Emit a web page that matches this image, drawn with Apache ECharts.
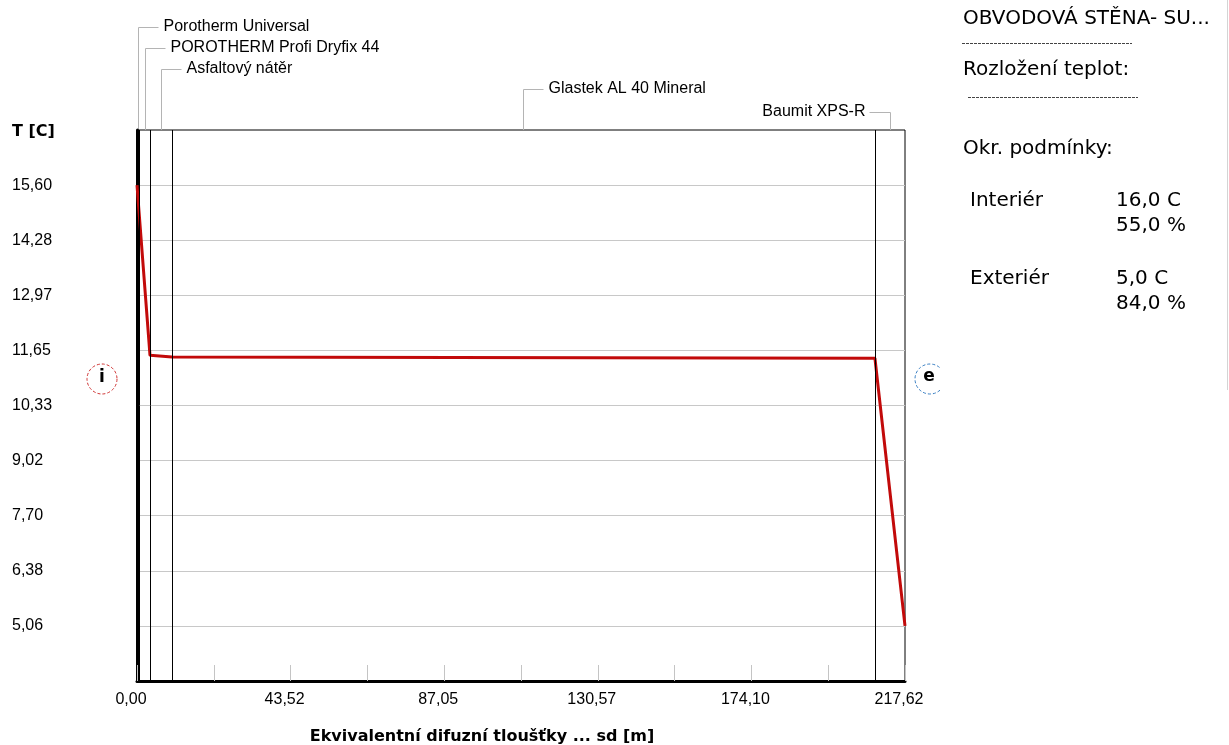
<!DOCTYPE html>
<html>
<head>
<meta charset="utf-8">
<script src="https://cdn.jsdelivr.net/npm/echarts@6/dist/echarts.min.js"></script>
<style>
  html, body { margin: 0; padding: 0; background: #fff; }
  #main { width: 1229px; height: 745px; }
</style>
</head>
<body>
<div id="main"></div>
<script>
// vrstvy konstrukce (hranice v sd [m])
const layerNames = ["Porotherm Universal", "POROTHERM Profi Dryfix 44", "Asfaltový nátěr", "Glastek AL 40 Mineral", "Baumit XPS-R"];
const layerBounds = [0, 0.6, 3.68, 9.92, 209.1, 217.62];

// průběh teploty
const sdValues = [0, 3.68, 9.92, 209.1, 217.62];
const tempValues = [15.6, 11.53, 11.49, 11.46, 5.06];

// popisky os
const xTickLabels = ["0,00", "43,52", "87,05", "130,57", "174,10", "217,62"];
const yTickLabels = ["5,06", "6,38", "7,70", "9,02", "10,33", "11,65", "12,97", "14,28", "15,60"];

// okrajové podmínky
const panelTitle = "OBVODOVÁ STĚNA- SU...";
const condNames = ["Interiér", "Exteriér"];
const condTemps = ["16,0 C", "5,0 C"];
const condHumid = ["55,0 %", "84,0 %"];

const xMax = 217.62;
const xStep = xMax / 10;
const yStep = 1.3175;
const yMin = 5.06 - yStep;
const yMax = yMin + 10 * yStep;

const FONT = "Liberation Sans, Arial, sans-serif";
const PANEL_FONT = "DejaVu Sans, sans-serif";

var myChart = echarts.init(document.getElementById("main"));

var option = {
  animation: false,
  backgroundColor: "#fff",
  grid: { left: 137, right: 324, top: 130, bottom: 64, show: true, borderColor: "#000", borderWidth: 1 },
  xAxis: {
    type: "value",
    min: 0,
    max: xMax,
    interval: xStep,
    axisLine: { lineStyle: { color: "#000", width: 3 } },
    axisTick: { inside: true, length: 16, lineStyle: { color: "#c4c4c4", width: 1 } },
    splitLine: { show: false },
    axisLabel: {
      color: "#000",
      fontSize: 16,
      fontFamily: FONT,
      margin: 11,
      padding: [0, 12, 0, 0],
      showMaxLabel: true,
      formatter: function (v) {
        const idx = Math.round(v / xStep);
        if (idx % 2) return "";
        return xTickLabels[idx / 2] || "";
      },
    },
  },
  yAxis: {
    type: "value",
    min: yMin,
    max: yMax,
    interval: yStep,
    axisLine: { show: true, lineStyle: { color: "#000", width: 3 } },
    axisTick: { show: false },
    splitLine: { show: true, showMinLine: false, showMaxLine: false, lineStyle: { color: "#c8c8c8", width: 1 } },
    axisLabel: {
      color: "#000",
      fontSize: 16,
      fontFamily: FONT,
      align: "left",
      margin: 125,
      padding: [12, 0, 0, 0],
      formatter: function (v) {
        const idx = Math.round((v - yMin) / yStep);
        return yTickLabels[idx - 1] || "";
      },
    },
  },
  series: [
    {
      // hranice vrstev
      type: "line",
      data: [],
      z: 1,
      silent: true,
      markLine: {
        silent: true,
        symbol: ["none", "none"],
        label: { show: false },
        lineStyle: { color: "#000", width: 1, type: "solid" },
        emphasis: { disabled: true },
        data: layerBounds.slice(1, -1).map((b) => ({ xAxis: b })),
      },
    },
    {
      name: "T",
      type: "line",
      z: 3,
      data: sdValues.map((x, i) => [x, tempValues[i]]),
      showSymbol: false,
      symbol: "none",
      lineStyle: { color: "#c20a0a", width: 3 },
    },
  ],
};

myChart.setOption(option);

// popisky vrstev s odkazovými čarami
const graphics = [];
const topY = 130;
const leaderY = [27.5, 48.5, 69.5, 89.5, 112.5];
layerNames.forEach((name, i) => {
  const xc = Math.round(myChart.convertToPixel({ xAxisIndex: 0 }, (layerBounds[i] + layerBounds[i + 1]) / 2)) + 0.5;
  const right = i === layerNames.length - 1;
  const xEnd = right ? xc - 21 : xc + 20;
  graphics.push({ type: "line", shape: { x1: xc, y1: topY, x2: xc, y2: leaderY[i] }, style: { stroke: "#b4b4b4", lineWidth: 1 } });
  graphics.push({ type: "line", shape: { x1: xc, y1: leaderY[i], x2: xEnd, y2: leaderY[i] }, style: { stroke: "#b4b4b4", lineWidth: 1 } });
  graphics.push({
    type: "text",
    x: right ? xc - 25 : xc + 25,
    y: leaderY[i] - 1,
    style: { text: name, fill: "#000", font: "16px " + FONT, textAlign: right ? "right" : "left", textVerticalAlign: "middle" },
  });
});

// název osy Y a X
graphics.push({ type: "text", x: 12, y: 132, style: { text: "T [C]", fill: "#000", font: "bold 16px DejaVu Sans, sans-serif", textVerticalAlign: "middle" } });
graphics.push({
  type: "text",
  x: 482,
  y: 737,
  style: { text: "Ekvivalentní difuzní tloušťky ... sd [m]", fill: "#000", font: "bold 16px DejaVu Sans, sans-serif", textAlign: "center", textVerticalAlign: "middle" },
});

// značky interiér / exteriér
graphics.push({ type: "circle", shape: { cx: 102, cy: 379, r: 15 }, style: { fill: "#fff", stroke: "#d03434", lineWidth: 1, lineDash: [3, 2] } });
graphics.push({ type: "text", x: 102, y: 378, style: { text: "i", fill: "#000", font: "bold 17px DejaVu Sans, sans-serif", textAlign: "center", textVerticalAlign: "middle" } });
graphics.push({
  type: "arc",
  shape: { cx: 930, cy: 379, r: 15, startAngle: 0.84, endAngle: 2 * Math.PI - 0.84, clockwise: true },
  style: { fill: null, stroke: "#3a80c4", lineWidth: 1, lineDash: [3, 2] },
});
graphics.push({ type: "text", x: 929, y: 377, style: { text: "e", fill: "#000", font: "bold 17px DejaVu Sans, sans-serif", textAlign: "center", textVerticalAlign: "middle" } });

// pravý panel
const panelText = (t, x, y) => ({ type: "text", x: x, y: y, style: { text: t, fill: "#000", font: "20px " + PANEL_FONT, textVerticalAlign: "middle" } });
graphics.push(panelText(panelTitle, 963, 19));
graphics.push({ type: "line", shape: { x1: 962, y1: 43.5, x2: 1132, y2: 43.5 }, style: { stroke: "#444", lineWidth: 1, lineDash: [3, 1] } });
graphics.push(panelText("Rozložení teplot:", 963, 70));
graphics.push({ type: "line", shape: { x1: 968, y1: 97.5, x2: 1138, y2: 97.5 }, style: { stroke: "#444", lineWidth: 1, lineDash: [3, 1] } });
graphics.push(panelText("Okr. podmínky:", 963, 149));
condNames.forEach((n, i) => {
  const y = 201 + i * 78;
  graphics.push(panelText(n, 970, y));
  graphics.push(panelText(condTemps[i], 1116, y));
  graphics.push(panelText(condHumid[i], 1116, y + 25));
});
graphics.push({ type: "line", shape: { x1: 1227.5, y1: 0, x2: 1227.5, y2: 390 }, style: { stroke: "#d4d4d4", lineWidth: 1 } });

myChart.setOption({ graphic: graphics });
</script>
</body>
</html>
